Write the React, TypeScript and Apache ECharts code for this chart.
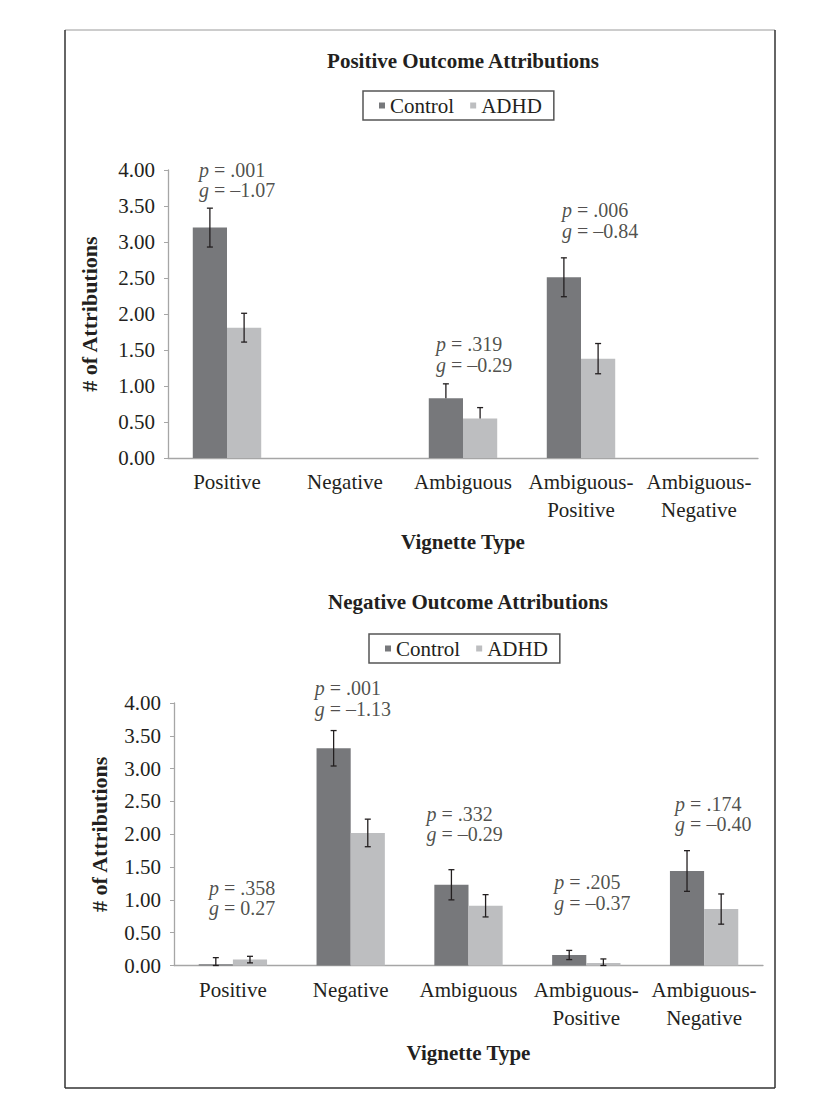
import React, { useEffect, useRef } from "react";
import * as echarts from "echarts";

const categories = [
  "Positive",
  "Negative",
  "Ambiguous",
  "Ambiguous-\nPositive",
  "Ambiguous-\nNegative",
];
const seriesNames = ["Control", "ADHD"];

// Positive outcome attributions (top panel), mean and SE whiskers
const posControl = [3.2, null, 0.83, 2.51, null];
const posControlUp = [0.27, null, 0.2, 0.27, null];
const posControlLo = [0.27, null, 0, 0.27, null];
const posADHD = [1.81, null, 0.55, 1.38, null];
const posADHDUp = [0.2, null, 0.15, 0.21, null];
const posADHDLo = [0.2, null, 0, 0.21, null];
const posP = [".001", null, ".319", ".006", null];
const posG = ["\u20131.07", null, "\u20130.29", "\u20130.84", null];
const posAnnotY = [3.86, null, 1.44, 3.3, null];

// Negative outcome attributions (bottom panel)
const negControl = [0.02, 3.31, 1.23, 0.16, 1.44];
const negControlUp = [0.1, 0.27, 0.23, 0.07, 0.31];
const negControlLo = [0.02, 0.27, 0.23, 0.07, 0.31];
const negADHD = [0.09, 2.02, 0.91, 0.04, 0.86];
const negADHDUp = [0.05, 0.21, 0.17, 0.06, 0.23];
const negADHDLo = [0.05, 0.21, 0.17, 0.04, 0.23];
const negP = [".358", ".001", ".332", ".205", ".174"];
const negG = ["0.27", "\u20131.13", "\u20130.29", "\u20130.37", "\u20130.40"];
const negAnnotY = [1.03, 4.07, 2.16, 1.11, 2.31];

// layout: left edge of each p/g label relative to the category centre (px)
const posAnnotShift = [-28, 0, -27, -19, 0];
const negAnnotShift = [-24, -36, -42, -32, -29];

const FONT = "'Liberation Serif', 'Times New Roman', serif";
const INK = "#231f20";
const COLORS = ["#77787b", "#bdbec0"];
const AXIS_GRAY = "#a6a6a6";
const BAR_FRAC = 0.29;

const annotSeries = (
  p: (string | null)[],
  g: (string | null)[],
  ys: (number | null)[],
  shifts: number[],
  axis: number
) => ({
  type: "scatter",
  xAxisIndex: axis,
  yAxisIndex: axis,
  clip: false,
  symbolSize: 1,
  silent: true,
  itemStyle: { color: "rgba(0,0,0,0)" },
  z: 5,
  data: p
    .map((pv, i) =>
      pv === null
        ? null
        : {
            value: [i, ys[i]],
            label: {
              offset: [shifts[i], 0],
              formatter: `{i|p}{n| = ${pv}}\n{i|g}{n| = ${g[i]}}`,
            },
          }
    )
    .filter((d) => d !== null),
  label: {
    show: true,
    position: "inside",
    align: "left",
    verticalAlign: "middle",
    rich: {
      i: { fontFamily: FONT, fontSize: 20, fontStyle: "italic", color: INK, lineHeight: 20.5 },
      n: { fontFamily: FONT, fontSize: 20, color: INK, lineHeight: 20.5 },
    },
  },
});

const errorSeries = (
  vals: (number | null)[],
  up: (number | null)[],
  lo: (number | null)[],
  side: number,
  axis: number
) => ({
  type: "custom",
  xAxisIndex: axis,
  yAxisIndex: axis,
  silent: true,
  z: 4,
  data: vals
    .map((v, i) => (v === null ? null : [i, v, up[i], lo[i]]))
    .filter((d) => d !== null),
  renderItem: (_params: any, api: any) => {
    const i = api.value(0);
    const v = api.value(1);
    const u = api.value(2);
    const l = api.value(3);
    const bw = api.size([1, 0])[0] * BAR_FRAC;
    const x = api.coord([i, v])[0] + (side * bw) / 2;
    const yTop = api.coord([i, v + u])[1];
    const yBot = api.coord([i, v - l])[1];
    const style = { stroke: INK, lineWidth: 1.3 };
    const children: any[] = [
      { type: "line", shape: { x1: x, y1: yTop, x2: x, y2: yBot }, style },
      { type: "line", shape: { x1: x - 3, y1: yTop, x2: x + 3, y2: yTop }, style },
    ];
    if (l > 0) {
      children.push({ type: "line", shape: { x1: x - 3, y1: yBot, x2: x + 3, y2: yBot }, style });
    }
    return { type: "group", children };
  },
});

const barSeries = (name: string, vals: (number | null)[], color: string, axis: number) => ({
  name,
  type: "bar",
  xAxisIndex: axis,
  yAxisIndex: axis,
  barWidth: "29%",
  barGap: "0%",
  itemStyle: { color },
  data: vals,
});

const xAxisOf = (gridIndex: number, nameGap: number) => ({
  type: "category",
  gridIndex,
  data: categories,
  name: "Vignette Type",
  nameLocation: "middle",
  nameGap,
  nameTextStyle: { fontFamily: FONT, fontSize: 21, fontWeight: "bold", color: INK },
  axisLine: { lineStyle: { color: AXIS_GRAY, width: 1.3 } },
  axisTick: { length: 5, lineStyle: { color: AXIS_GRAY } },
  axisLabel: {
    fontFamily: FONT,
    fontSize: 21,
    color: INK,
    lineHeight: 28,
    margin: 10,
    interval: 0,
  },
});

const yAxisOf = (gridIndex: number, nameGap: number) => ({
  type: "value",
  gridIndex,
  min: 0,
  max: 4,
  interval: 0.5,
  name: "# of Attributions",
  nameLocation: "middle",
  nameGap,
  nameTextStyle: { fontFamily: FONT, fontSize: 22, fontWeight: "bold", color: INK },
  axisLine: { show: true, lineStyle: { color: AXIS_GRAY, width: 1.3 } },
  axisTick: { show: true, length: 4, lineStyle: { color: AXIS_GRAY } },
  splitLine: { show: false },
  axisLabel: {
    fontFamily: FONT,
    fontSize: 21,
    color: INK,
    margin: 13,
    formatter: (v: number) => v.toFixed(2),
  },
});

const legendOf = (left: number, top: number) => ({
  left,
  top,
  data: seriesNames,
  icon: "rect",
  itemWidth: 6,
  itemHeight: 6,
  itemGap: 16,
  padding: [4, 12, 4, 16],
  borderColor: "#555",
  borderWidth: 1.5,
  textStyle: { fontFamily: FONT, fontSize: 21, color: INK },
});

const App: React.FC = () => {
  const chartRef = useRef<HTMLDivElement>(null);

  useEffect(() => {
    if (!chartRef.current) return;
    const chart = echarts.init(chartRef.current, undefined, { renderer: "svg" });

    const option = {
      animation: false,
      backgroundColor: "#ffffff",
      color: COLORS,
      title: [
        {
          text: "Positive Outcome Attributions",
          left: 463,
          top: 50,
          textAlign: "center",
          padding: 0,
          textStyle: { fontFamily: FONT, fontSize: 21, fontWeight: "bold", color: INK },
        },
        {
          text: "Negative Outcome Attributions",
          left: 468,
          top: 591,
          textAlign: "center",
          padding: 0,
          textStyle: { fontFamily: FONT, fontSize: 21, fontWeight: "bold", color: INK },
        },
      ],
      legend: [legendOf(363, 91), legendOf(369, 634)],
      grid: [
        { left: 168, top: 170, width: 590, height: 288 },
        { left: 174, top: 703, width: 589, height: 262.5 },
      ],
      xAxis: [xAxisOf(0, 73), xAxisOf(1, 77)],
      yAxis: [yAxisOf(0, 68), yAxisOf(1, 64)],
      graphic: [
        { type: "line", shape: { x1: 65, y1: 30, x2: 775, y2: 30 }, style: { stroke: "#9a9a9a", lineWidth: 1 } },
        { type: "line", shape: { x1: 65, y1: 30, x2: 65, y2: 1088 }, style: { stroke: "#333", lineWidth: 1.5 } },
        { type: "line", shape: { x1: 775, y1: 30, x2: 775, y2: 1088 }, style: { stroke: "#333", lineWidth: 1.5 } },
        { type: "line", shape: { x1: 65, y1: 1088, x2: 775, y2: 1088 }, style: { stroke: "#333", lineWidth: 1.5 } },
      ],
      series: [
        barSeries("Control", posControl, COLORS[0], 0),
        barSeries("ADHD", posADHD, COLORS[1], 0),
        errorSeries(posControl, posControlUp, posControlLo, -1, 0),
        errorSeries(posADHD, posADHDUp, posADHDLo, 1, 0),
        annotSeries(posP, posG, posAnnotY, posAnnotShift, 0),
        barSeries("Control", negControl, COLORS[0], 1),
        barSeries("ADHD", negADHD, COLORS[1], 1),
        errorSeries(negControl, negControlUp, negControlLo, -1, 1),
        errorSeries(negADHD, negADHDUp, negADHDLo, 1, 1),
        annotSeries(negP, negG, negAnnotY, negAnnotShift, 1),
      ],
    };

    chart.setOption(option);
    return () => {
      chart.dispose();
    };
  }, []);

  return (
    <div
      ref={chartRef}
      style={{ position: "absolute", left: 0, top: 0, width: "840px", height: "1118px" }}
    />
  );
};

export default App;
